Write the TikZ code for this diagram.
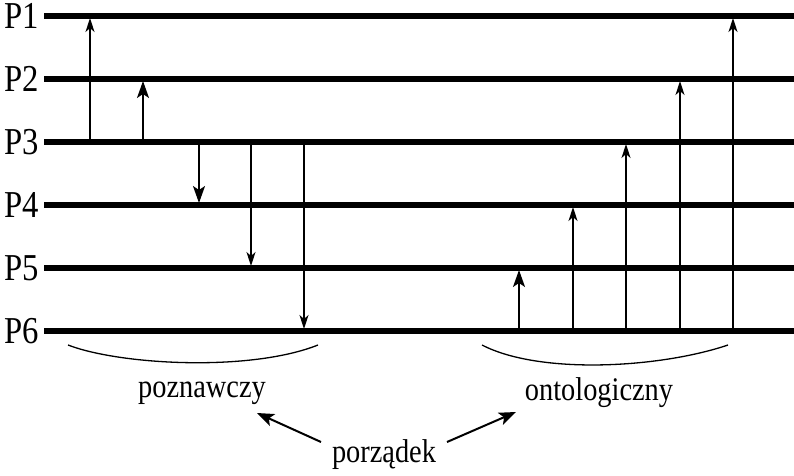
\documentclass[tikz,border=0pt]{standalone}
\usepackage{fontspec}
\setmainfont{Liberation Serif}
\newfontfamily\tallserif[FakeStretch=0.86]{Liberation Serif}
\usetikzlibrary{arrows.meta}
\begin{document}
\begin{tikzpicture}[x=1pt,y=-1pt,
  level/.style={line width=5.5pt},
  lab/.style={anchor=west,inner sep=0pt,font=\tallserif\fontsize{38}{40}\selectfont},
  word/.style={inner sep=1pt,font=\tallserif\fontsize{33}{34}\selectfont},
  link/.style={line width=1.6pt,-{Stealth[length=14pt,width=9pt,inset=4pt]}},
  bigl/.style={line width=1.6pt,-{Stealth[length=17pt,width=12pt,inset=4pt]}},
  brace/.style={line width=1.3pt},
  pointer/.style={line width=2pt,-{Stealth[length=17pt,width=13pt,inset=4pt]}}]
\useasboundingbox (0,0) rectangle (794,475);
% levels P1..P6
\foreach \i/\y in {1/16,2/79,3/142,4/205,5/268,6/331}{
  \node[lab] (L\i) at (4,\y) {P\i};
  \coordinate (a\i) at (44,\y);
  \coordinate (b\i) at (794,\y);
  \draw[level] (a\i) -- (b\i);
}
% cognitive order: from P3
\coordinate (s1) at (90,142);  \coordinate (e1) at (90,18);
\coordinate (s2) at (143,142); \coordinate (e2) at (143,81);
\coordinate (s3) at (199,144); \coordinate (e3) at (199,203);
\coordinate (s4) at (251,144); \coordinate (e4) at (251,266);
\coordinate (s5) at (304,144); \coordinate (e5) at (304,329);
\draw[link] (s1) -- (e1);
\draw[bigl] (s2) -- (e2);
\draw[bigl] (s3) -- (e3);
\draw[link] (s4) -- (e4);
\draw[link] (s5) -- (e5);
% ontological order: from P6
\coordinate (t1) at (519,331); \coordinate (f1) at (519,270);
\coordinate (t2) at (573,331); \coordinate (f2) at (573,207);
\coordinate (t3) at (626,331); \coordinate (f3) at (626,144);
\coordinate (t4) at (680,331); \coordinate (f4) at (680,81);
\coordinate (t5) at (733,331); \coordinate (f5) at (733,18);
\draw[bigl] (t1) -- (f1);
\draw[link] (t2) -- (f2);
\draw[link] (t3) -- (f3);
\draw[link] (t4) -- (f4);
\draw[link] (t5) -- (f5);
% braces
\coordinate (bl1) at (68,345); \coordinate (bl2) at (318,345);
\coordinate (br1) at (482,345); \coordinate (br2) at (728,345);
\draw[brace] (bl1) .. controls (120,365) and (250,372) .. (bl2);
\draw[brace] (br1) .. controls (540,375) and (660,368) .. (br2);
% labels
\node[word] (pozn) at (202,393) {poznawczy};
\node[word] (onto) at (599,393) {ontologiczny};
\node[word] (porz) at (384,455) {porządek};
\coordinate (p1) at (321,442);
\coordinate (p2) at (447,442);
\coordinate (q1) at (257,413);
\coordinate (q2) at (516,412);
\draw[pointer] (p1) -- (q1);
\draw[pointer] (p2) -- (q2);
\end{tikzpicture}
\end{document}
